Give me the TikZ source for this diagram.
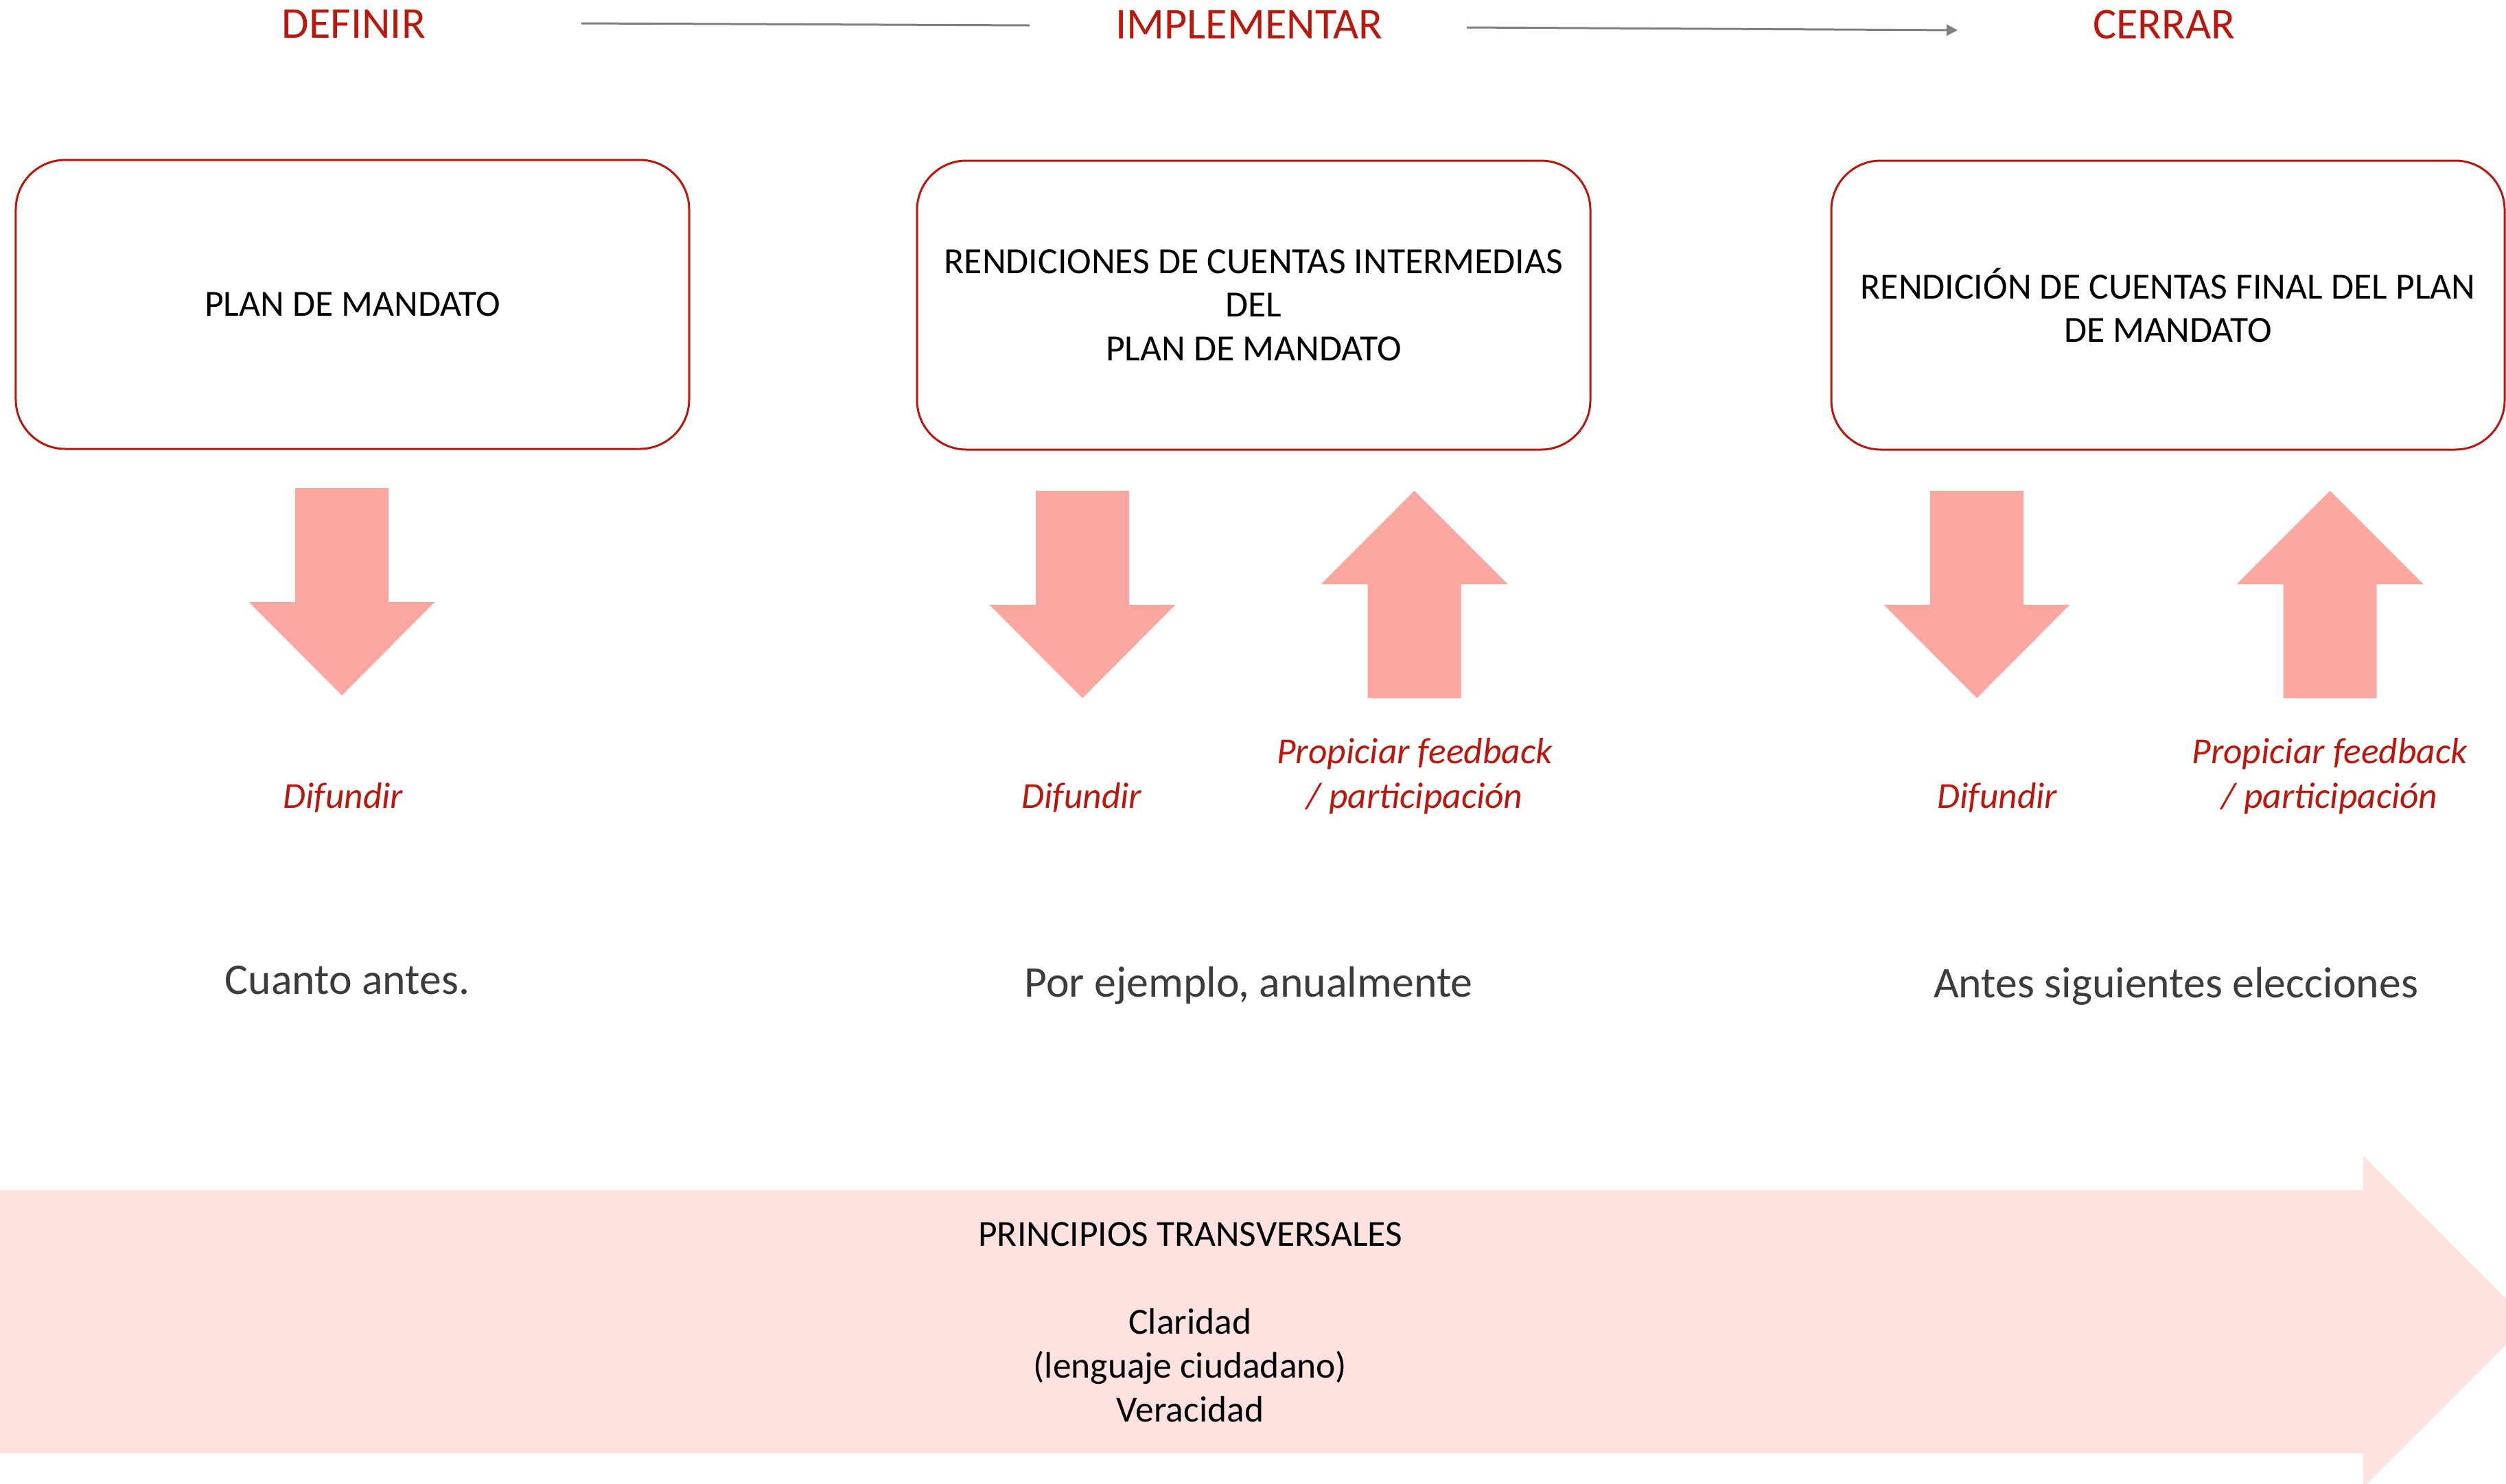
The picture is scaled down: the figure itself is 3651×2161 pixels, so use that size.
\documentclass[tikz,border=0pt]{standalone}
\usepackage{fontspec}
\setmainfont{Carlito}
\usetikzlibrary{arrows.meta}
\definecolor{darkred}{RGB}{184,24,14}
\definecolor{arrowpink}{RGB}{249,167,160}
\definecolor{bandpink}{RGB}{253,226,223}
\definecolor{linegray}{RGB}{128,128,128}
\definecolor{textgray}{RGB}{60,60,60}
\begin{document}
\begin{tikzpicture}[x=0.2pt,y=-0.2pt,
  phase/.style={anchor=base,text=darkred,inner sep=0pt,font=\fontsize{12.85}{15}\selectfont},
  stagebox/.style={draw=darkred,line width=0.6pt,rounded corners=14.4pt,minimum width=196.2pt,minimum height=84.2pt,inner sep=0pt,align=center,font=\fontsize{10.75}{12.7}\selectfont},
  action/.style={anchor=base,text=darkred,inner sep=0pt,font=\fontsize{10.7}{13}\selectfont\itshape},
  timing/.style={anchor=base,text=textgray,inner sep=0pt,font=\fontsize{12.75}{15}\selectfont},
  principle/.style={anchor=base,inner sep=0pt,font=\fontsize{10.7}{12.7}\selectfont},
  fatarrow/.style={fill=arrowpink,draw=none},
  flowline/.style={draw=linegray,line width=0.6pt}
]
\clip (0,0) rectangle (3651,2161);
\fill[white] (0,0) rectangle (3651,2161);

% bottom band arrow
\fill[bandpink] (0,1734) -- (3443,1734) -- (3443,1684) -- (3684.5,1925.5) -- (3443,2167) -- (3443,2117) -- (0,2117) -- cycle;

% phase labels
\node[phase] (def) at (515.5,55) {DEFINIR};
\node[phase] (imp) at (1820,56) {IMPLEMENTAR};
\node[phase] (cer) at (3153,56) {CERRAR};

\coordinate (l1s) at (847,34);
\coordinate (l1e) at (1500,37);
\coordinate (l2s) at (2137,40);
\coordinate (l2e) at (2852,44);
\draw[flowline] (l1s) -- (l1e);
\draw[flowline,-{Triangle[length=3.2pt,width=3.2pt]}] (l2s) -- (l2e);

% boxes
\node[stagebox] (b1) at (513.5,443.5) {PLAN DE MANDATO};
\node[stagebox] (b2) at (1826.5,444.5) {RENDICIONES DE CUENTAS INTERMEDIAS\\DEL\\PLAN DE MANDATO};
\node[stagebox] (b3) at (3158.5,444.5) {RENDICIÓN DE CUENTAS FINAL DEL PLAN\\DE MANDATO};

% down arrows
\foreach \c/\t in {498/711,1577/715,2880/715}{
  \fill[fatarrow] (\c-68,\t) -- (\c+68,\t) -- (\c+68,\t+166) -- (\c+135.5,\t+166) -- (\c,\t+302) -- (\c-135.5,\t+166) -- (\c-68,\t+166) -- cycle;
}
% up arrows
\foreach \c/\t in {2060.5/715,3394.5/715}{
  \fill[fatarrow] (\c,\t) -- (\c+136,\t+136) -- (\c+68,\t+136) -- (\c+68,\t+302) -- (\c-68,\t+302) -- (\c-68,\t+136) -- (\c-136,\t+136) -- cycle;
}

% actions
\node[action] (d1) at (500,1177) {Difundir};
\node[action] (d2) at (1576,1177) {Difundir};
\node[action] (d3) at (2910,1177) {Difundir};
\node[action] (p2a) at (2061,1112) {Propiciar feedback};
\node[action] (p2b) at (2061,1177) {/ participación};
\node[action] (p3a) at (3394,1112) {Propiciar feedback};
\node[action] (p3b) at (3394,1177) {/ participación};

% timing
\node[timing] (t1) at (506,1448) {Cuanto antes.};
\node[timing] (t2) at (1819,1452) {Por ejemplo, anualmente};
\node[timing] (t3) at (3170,1453) {Antes siguientes elecciones};

% principles
\node[principle] (pt) at (1734,1815) {PRINCIPIOS TRANSVERSALES};
\node[principle] (cl) at (1734,1943) {Claridad};
\node[principle] (lc) at (1734,2007) {(lenguaje ciudadano)};
\node[principle] (ve) at (1734,2071) {Veracidad};
\end{tikzpicture}
\end{document}
